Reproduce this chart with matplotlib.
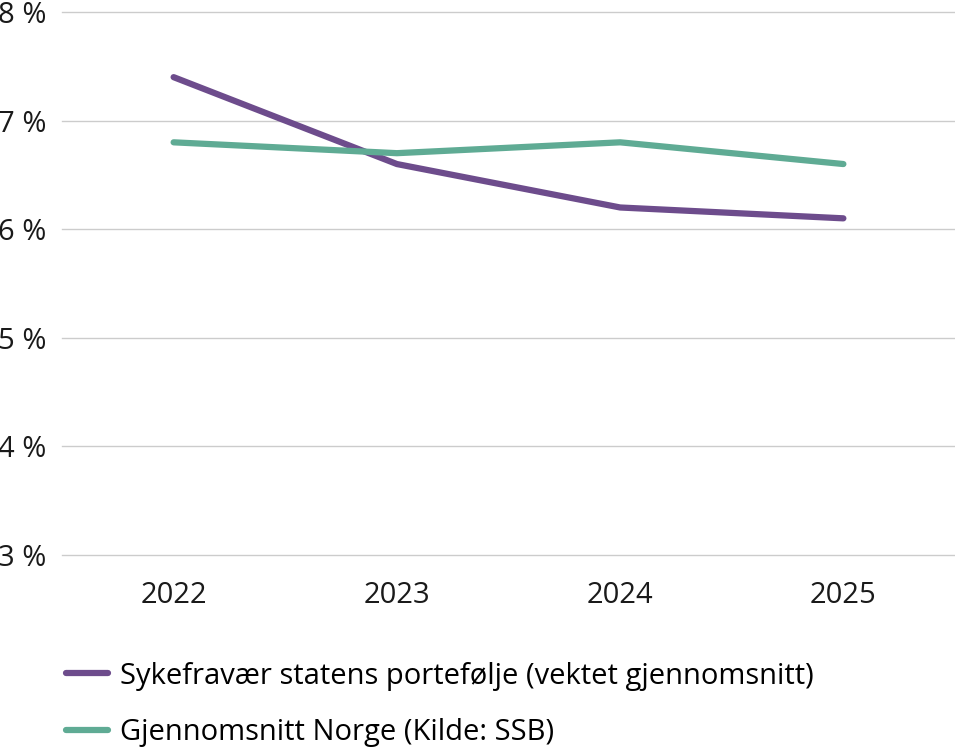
import matplotlib.pyplot as plt

plt.rcParams['font.family'] = ['Open Sans', 'DejaVu Sans']

years = ['2022', '2023', '2024', '2025']
staten = [7.4, 6.6, 6.2, 6.1]
norge = [6.8, 6.7, 6.8, 6.6]
labels = ['Sykefravær statens portefølje (vektet gjennomsnitt)',
          'Gjennomsnitt Norge (Kilde: SSB)']
purple = '#6d4c8c'
green = '#5fab94'

fig = plt.figure(figsize=(9.55, 7.47), dpi=100)
ax = fig.add_axes([62 / 955, 1 - 555 / 747, 1 - 62 / 955, (555 - 12) / 747])

x = range(len(years))
l1, = ax.plot(x, staten, color=purple, lw=4.5, solid_capstyle='round')
l2, = ax.plot(x, norge, color=green, lw=4.5, solid_capstyle='round')

ax.set_xlim(-0.5, 3.5)
ax.set_ylim(3, 8)
ax.set_xticks(list(x))
ax.set_xticklabels(years)
ax.set_yticks([3, 4, 5, 6, 7, 8])
ax.set_yticklabels(['%d %%' % v for v in range(3, 9)])
ax.tick_params(axis='both', length=0, labelsize=21, colors='#1a1a1a')
ax.tick_params(axis='x', pad=19)
ax.tick_params(axis='y', pad=11)
for s in ax.spines.values():
    s.set_visible(False)
ax.grid(axis='y', color='#cccccc', lw=1)
for gl in ax.get_ygridlines():
    gl.set_clip_on(False)
ax.set_axisbelow(True)

fig.legend([l1, l2], labels, loc='upper left', bbox_to_anchor=(0.057, 0.13),
           frameon=False, fontsize=21, handlelength=1.45, handletextpad=0.4,
           labelspacing=0.95, borderaxespad=0)

fig.savefig('out.png', dpi=100)
